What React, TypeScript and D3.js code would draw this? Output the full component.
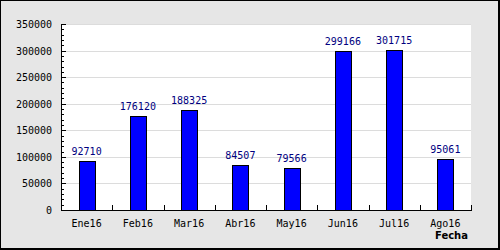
import React from "react";
import * as d3 from "d3";

const categories = ["Ene16", "Feb16", "Mar16", "Abr16", "May16", "Jun16", "Jul16", "Ago16"];
const values = [92710, 176120, 188325, 84507, 79566, 299166, 301715, 95061];
const yTicks = [0, 50000, 100000, 150000, 200000, 250000, 300000, 350000];
const xTitle = "Fecha";

const W = 500;
const H = 250;
const L = 61;
const R = 471;
const T = 24;
const B = 210;

export default function App() {
  const x = d3.scaleBand<string>().domain(categories).range([L, R]).padding(0);
  const y = d3.scaleLinear().domain([0, 350000]).range([B, T]);
  const minor = d3.range(0, 350001, 10000);
  const bw = 16;
  const mono = "'DejaVu Sans Mono', monospace";
  return (
    <svg width={W} height={H} style={{ position: "absolute", left: 0, top: 0 }}>
      <rect x={0} y={0} width={W} height={H} fill="#e6e6e6" />
      <line x1={0.5} y1={0} x2={0.5} y2={H} stroke="#000" />
      <line x1={0} y1={0.5} x2={W} y2={0.5} stroke="#000" />
      <line x1={499} y1={0} x2={499} y2={H} stroke="#000" strokeWidth={2} />
      <line x1={0} y1={249} x2={W} y2={249} stroke="#000" strokeWidth={2} />
      <rect x={L} y={T} width={R - L} height={B - T} fill="#fff" />
      {yTicks.map((t) => (
        <line key={"g" + t} x1={L} x2={R} y1={Math.round(y(t)) + 0.5} y2={Math.round(y(t)) + 0.5} stroke="#dcdcdc" />
      ))}
      {categories.map((c, i) => {
        const cx = (x(c) as number) + x.bandwidth() / 2;
        const v = values[i];
        const top = Math.round(y(v));
        return (
          <g key={c}>
            <rect x={Math.round(cx - bw / 2) + 0.5} y={top + 0.5} width={bw} height={B - top} fill="#0000ff" stroke="#000" />
            <text x={cx} y={top - 6} textAnchor="middle" fontFamily={mono} fontSize={10} fill="#000080">{v}</text>
            <text x={cx} y={227} textAnchor="middle" fontFamily={mono} fontSize={10} fill="#000">{c}</text>
          </g>
        );
      })}
      {categories.map((c, i) => {
        const bx = Math.round((x(c) as number) + x.bandwidth()) + 0.5;
        return <line key={"xt" + i} x1={bx} x2={bx} y1={B} y2={B - 5} stroke="#000" />;
      })}
      {minor.map((t) => {
        const isMajor = t % 50000 === 0;
        const yy = Math.round(y(t)) + 0.5;
        return <line key={"m" + t} x1={L} x2={L + (isMajor ? 5 : 3)} y1={yy} y2={yy} stroke="#000" />;
      })}
      {yTicks.map((t) => (
        <text key={"yl" + t} x={52} y={y(t) + 4} textAnchor="end" fontFamily={mono} fontSize={10} fill="#000">{t}</text>
      ))}
      <line x1={L + 0.5} x2={L + 0.5} y1={T} y2={B + 1} stroke="#000" />
      <line x1={L} x2={R + 1} y1={B + 0.5} y2={B + 0.5} stroke="#000" />
      <text x={468} y={239} textAnchor="end" fontFamily="'DejaVu Sans', sans-serif" fontWeight="bold" fontSize={10} fill="#000">{xTitle}</text>
    </svg>
  );
}
